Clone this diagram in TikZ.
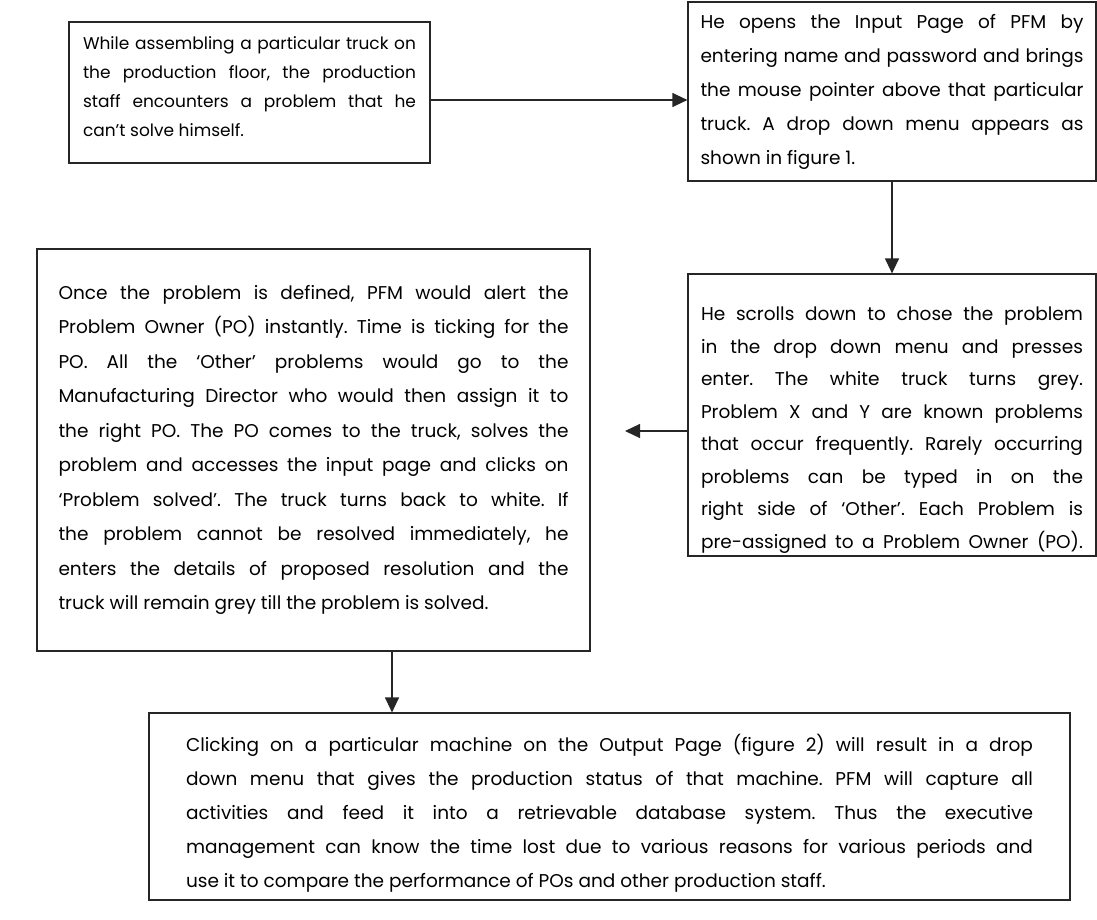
\documentclass[tikz,border=0pt]{standalone}
\usepackage{fontspec}
\setmainfont{Poppins}
\usetikzlibrary{arrows.meta}
\newcommand{\JL}[1]{\makebox[\linewidth][s]{#1}\\}
\tikzset{
  box/.style={draw=black!85, line width=1.2pt, inner sep=0pt, align=center},
  arr/.style={draw=black!85, line width=1.2pt, -{Triangle[length=15pt,width=14pt]}}
}
\begin{document}
\frenchspacing
\begin{tikzpicture}[x=1pt,y=-1pt]
\useasboundingbox (0,0) rectangle (1097,919);
% box 1
\node[box, minimum width=361pt, minimum height=141pt] (b1) at (249.5,92.5)
 {\parbox{333pt}{\fontsize{17pt}{29pt}\selectfont
 \JL{While assembling a particular truck on}
 \JL{the production floor, the production}
 \JL{staff encounters a problem that he}
 can’t solve himself.\vspace*{12pt}}};
% box 2
\node[box, minimum width=408pt, minimum height=179pt] (b2) at (892,91.5)
 {\parbox{383pt}{\fontsize{18.5pt}{34pt}\selectfont
 \JL{He opens the Input Page of PFM by}
 \JL{entering name and password and brings}
 \JL{the mouse pointer above that particular}
 \JL{truck. A drop down menu appears as}
 shown in figure 1.}};
% box 3
\node[box, minimum width=408pt, minimum height=282pt] (b3) at (892,415)
 {\parbox{382pt}{\vspace*{30pt}\fontsize{18.5pt}{32.5pt}\selectfont
 \JL{He scrolls down to chose the problem}
 \JL{in the drop down menu and presses}
 \JL{enter. The white truck turns grey.}
 \JL{Problem X and Y are known problems}
 \JL{that occur frequently. Rarely occurring}
 \JL{problems can be typed in on the}
 \JL{right side of ‘Other’. Each Problem is}
 \makebox[\linewidth][s]{pre-assigned to a Problem Owner (PO).}}};
% box 4
\node[box, minimum width=553pt, minimum height=402pt] (b4) at (313.5,450)
 {\parbox{510pt}{\fontsize{18.5pt}{34.5pt}\selectfont
 \JL{Once the problem is defined, PFM would alert the}
 \JL{Problem Owner (PO) instantly. Time is ticking for the}
 \JL{PO. All the ‘Other’ problems would go to the}
 \JL{Manufacturing Director who would then assign it to}
 \JL{the right PO. The PO comes to the truck, solves the}
 \JL{problem and accesses the input page and clicks on}
 \JL{‘Problem solved’. The truck turns back to white. If}
 \JL{the problem cannot be resolved immediately, he}
 \JL{enters the details of proposed resolution and the}
 truck will remain grey till the problem is solved.}};
% box 5
\node[box, minimum width=921pt, minimum height=187pt] (b5) at (609.5,806.5)
 {\parbox{847pt}{\vspace*{14pt}\fontsize{18.5pt}{34pt}\selectfont
 \JL{Clicking on a particular machine on the Output Page (figure 2) will result in a drop}
 \JL{down menu that gives the production status of that machine. PFM will capture all}
 \JL{activities and feed it into a retrievable database system. Thus the executive}
 \JL{management can know the time lost due to various reasons for various periods and}
 use it to compare the performance of POs and other production staff.}};
% connectors
\coordinate (y1) at (0,100);
\coordinate (y3) at (0,431);
\coordinate (x4) at (392,0);
\coordinate (a3end) at (625,431);
\draw[arr] (b1.east |- y1) -- (b2.west |- y1);
\draw[arr] (b2.south) -- (b3.north);
\draw[arr] (b3.west |- y3) -- (a3end);
\draw[arr] (b4.south -| x4) -- (b5.north -| x4);
\end{tikzpicture}
\end{document}
